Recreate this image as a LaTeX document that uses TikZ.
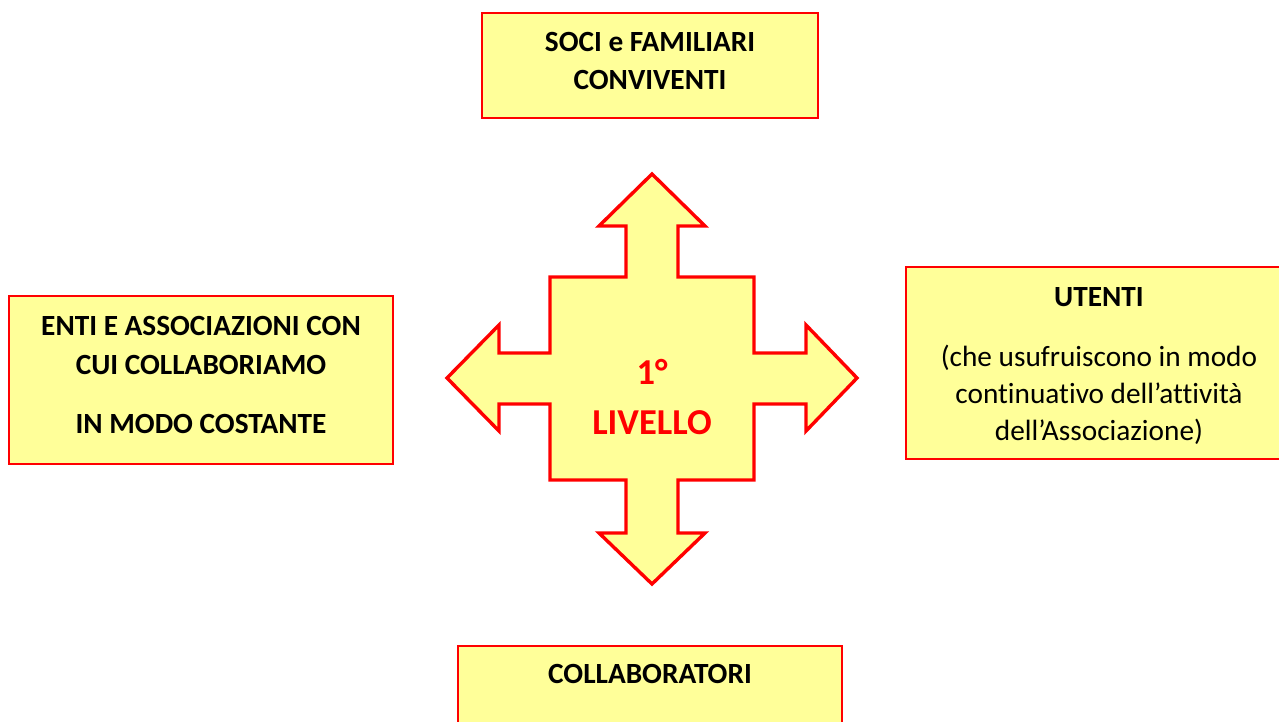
\documentclass[tikz,border=0pt]{standalone}
\usepackage{fontspec}
\setmainfont[Ligatures=NoCommon]{Carlito}
\definecolor{boxfill}{HTML}{FFFF99}
\definecolor{boxred}{HTML}{FF0000}
\begin{document}
\begin{tikzpicture}[x=1pt,y=-1pt,
  box/.style={draw=boxred, line width=2pt, fill=boxfill},
  lbl/.style={anchor=base, inner sep=0pt, font=\fontsize{29.3}{35}\selectfont\bfseries},
  lblr/.style={anchor=base, inner sep=0pt, font=\fontsize{29.3}{35}\selectfont},
  big/.style={anchor=base, inner sep=0pt, text=boxred, font=\fontsize{36.5}{44}\selectfont\bfseries}]
\useasboundingbox (0,0) rectangle (1279,722);
\clip (0,0) rectangle (1279,722);
% boxes
\draw[box] (482,13) rectangle (818,118);
\draw[box] (9,296) rectangle (393,464);
\draw[box] (906,267) rectangle (1292,459);
\draw[box] (458,646) rectangle (842,760);
% cross
\draw[draw=boxred, line width=3.4pt, fill=boxfill, line join=miter]
 (652,174) -- (705,226) -- (678,226) -- (678,277) -- (754,277) -- (754,353) -- (806,353) -- (806,325) -- (857,378) -- (806,431) -- (806,404) -- (754,404) -- (754,480) -- (678,480) -- (678,533) -- (705,533) -- (652,584) -- (599,533) -- (626,533) -- (626,480) -- (550,480) -- (550,404) -- (499,404) -- (499,431) -- (447,378) -- (499,325) -- (499,353) -- (550,353) -- (550,277) -- (626,277) -- (626,226) -- (599,226) -- cycle;
% texts
\node[lbl] (t1) at (650,52) {SOCI e FAMILIARI};
\node[lbl] (t2) at (650,90) {CONVIVENTI};
\node[lbl] (l1) at (201,335) {ENTI E ASSOCIAZIONI CON};
\node[lbl] (l2) at (201,374) {CUI COLLABORIAMO};
\node[lbl] (l3) at (201,433) {IN MODO COSTANTE};
\node[lbl] (r1) at (1099,306) {UTENTI};
\node[lblr] (r2) at (1099,366) {(che usufruiscono in modo};
\node[lblr] (r3) at (1099,403) {continuativo dell’attività};
\node[lblr] (r4) at (1099,440) {dell’Associazione)};
\node[lbl] (b1) at (650,683) {COLLABORATORI};
\node[big] (c1) at (652,384) {1°};
\node[big] (c2) at (652,434) {LIVELLO};
\end{tikzpicture}
\end{document}
